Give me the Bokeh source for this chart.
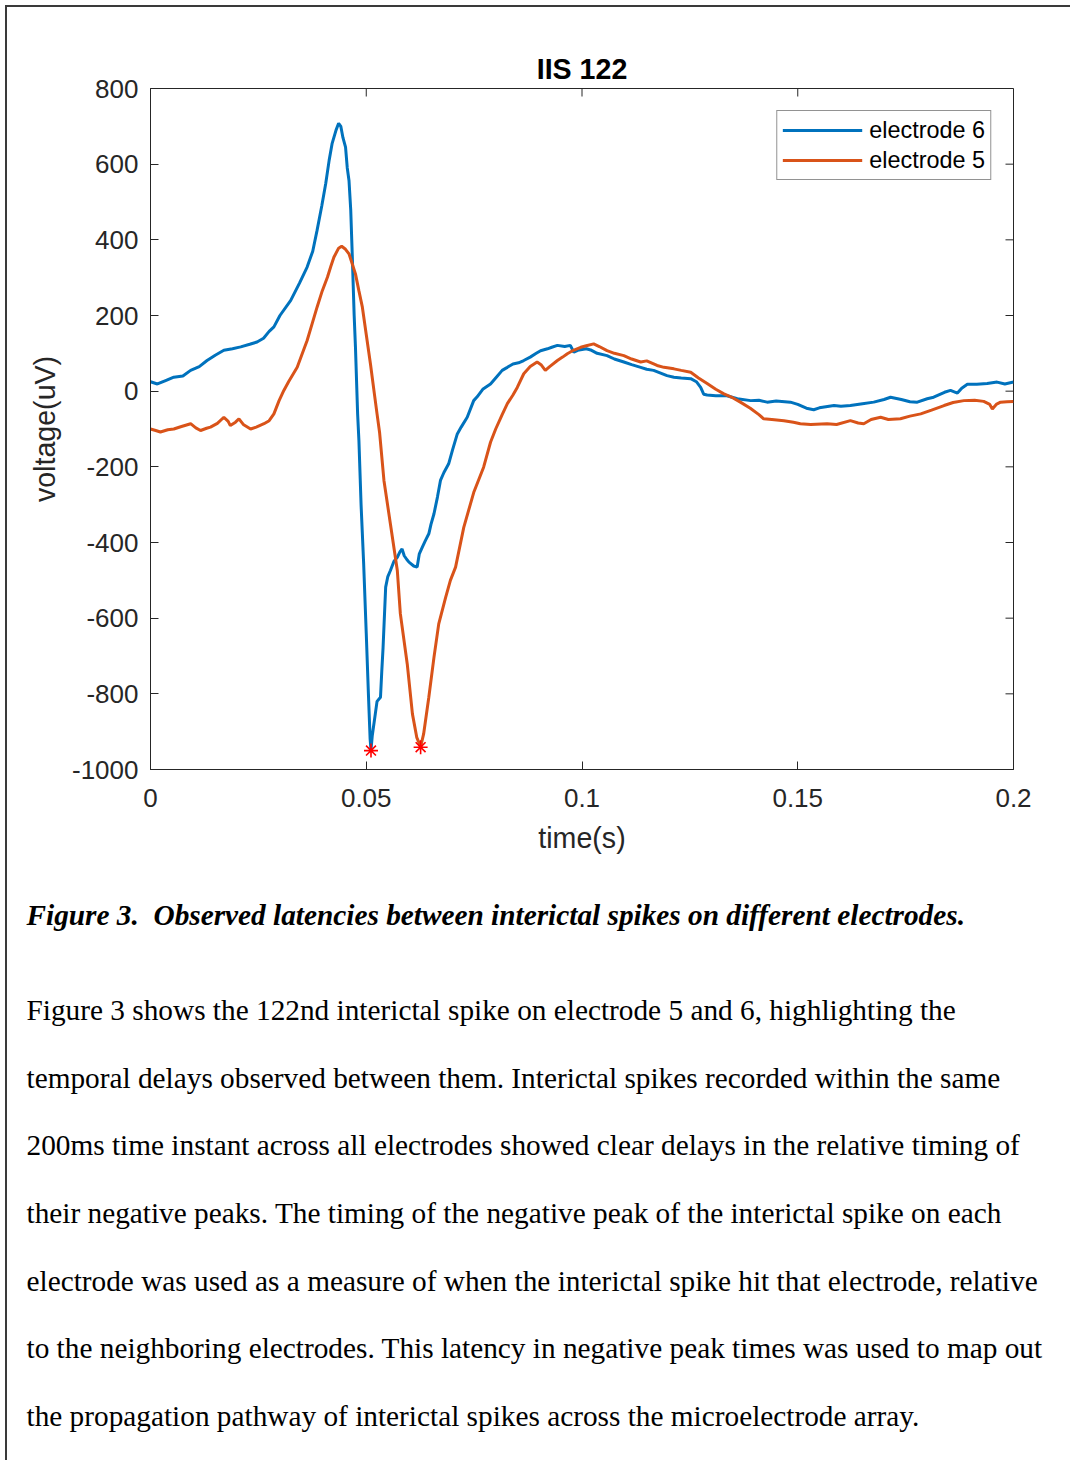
from bokeh.plotting import figure
from bokeh.models import Range1d, FixedTicker, Legend, LegendItem
from bokeh.layouts import column
from bokeh.embed import file_html
from bokeh.resources import INLINE
from bokeh.core.properties import value

# ---------------- data ----------------
series_names = ["electrode 6", "electrode 5"]

t_e6 = [0.0000, 0.0016, 0.0035, 0.0054, 0.0075, 0.0093, 0.0113, 0.0131, 0.0150, 0.0170,
        0.0190, 0.0209, 0.0230, 0.0247, 0.0262, 0.0275, 0.0286, 0.0300, 0.0325, 0.0345,
        0.0363, 0.0376, 0.0386, 0.0397, 0.0406, 0.0414, 0.0421, 0.0430, 0.0436, 0.0441,
        0.0446, 0.0452, 0.0456, 0.0460, 0.0464, 0.0467, 0.0472, 0.0475, 0.0480, 0.0483,
        0.0488, 0.0494, 0.0500, 0.0505, 0.0509, 0.0511, 0.0514, 0.0521, 0.0525, 0.0533,
        0.0536, 0.0539, 0.0545, 0.0550, 0.0556, 0.0564, 0.0572, 0.0578, 0.0583, 0.0588,
        0.0594, 0.0599, 0.0610, 0.0618, 0.0623, 0.0630, 0.0637, 0.0645, 0.0650, 0.0657,
        0.0665, 0.0672, 0.0680, 0.0691, 0.0700, 0.0711, 0.0720, 0.0734, 0.0749, 0.0757,
        0.0770, 0.0788, 0.0800, 0.0815, 0.0827, 0.0840, 0.0853, 0.0865, 0.0880, 0.0894,
        0.0904, 0.0920, 0.0930, 0.0943, 0.0960, 0.0973, 0.0981, 0.0990, 0.1010, 0.1020,
        0.1035, 0.1058, 0.1075, 0.1097, 0.1115, 0.1136, 0.1150, 0.1166, 0.1197, 0.1213,
        0.1230, 0.1252, 0.1265, 0.1275, 0.1282, 0.1290, 0.1310, 0.1336, 0.1360, 0.1391,
        0.1410, 0.1429, 0.1450, 0.1483, 0.1500, 0.1520, 0.1537, 0.1550, 0.1584, 0.1600,
        0.1622, 0.1650, 0.1676, 0.1700, 0.1715, 0.1740, 0.1760, 0.1777, 0.1800, 0.1815,
        0.1840, 0.1854, 0.1870, 0.1880, 0.1893, 0.1915, 0.1939, 0.1962, 0.1980, 0.2000]
v_e6 = [25, 19, 28, 37, 40, 55, 65, 81, 95, 108,
        112, 117, 124, 130, 140, 158, 170, 200, 240, 285,
        328, 370, 425, 490, 548, 610, 655, 690, 708, 700,
        670, 645, 590, 557, 480, 380, 200, 116, -60, -130,
        -300, -456, -640, -800, -920, -948, -910, -853, -820, -809,
        -740, -677, -518, -490, -474, -450, -439, -425, -417, -435,
        -445, -452, -462, -465, -430, -412, -395, -377, -352, -324,
        -280, -236, -215, -192, -155, -113, -95, -69, -25, -15,
        5, 19, 35, 55, 63, 72, 75, 81, 90, 100,
        107, 112, 116, 121, 118, 121, 103, 108, 112, 109,
        100, 94, 85, 77, 70, 63, 58, 55, 41, 37,
        35, 33, 25, 10, -8, -10, -12, -12, -20, -25,
        -24, -29, -26, -29, -35, -45, -49, -44, -38, -40,
        -38, -33, -29, -22, -16, -22, -28, -29, -20, -16,
        -3, 2, -5, 8, 18, 18, 20, 24, 19, 24]

t_e5 = [0.0000, 0.0012, 0.0023, 0.0040, 0.0054, 0.0070, 0.0093, 0.0105, 0.0116, 0.0130,
        0.0139, 0.0155, 0.0170, 0.0180, 0.0185, 0.0197, 0.0205, 0.0215, 0.0232, 0.0245,
        0.0263, 0.0275, 0.0286, 0.0298, 0.0309, 0.0320, 0.0340, 0.0352, 0.0363, 0.0375,
        0.0386, 0.0398, 0.0410, 0.0418, 0.0425, 0.0436, 0.0443, 0.0452, 0.0460, 0.0468,
        0.0475, 0.0483, 0.0491, 0.0500, 0.0510, 0.0518, 0.0525, 0.0531, 0.0541, 0.0556,
        0.0572, 0.0579, 0.0595, 0.0607, 0.0617, 0.0626, 0.0633, 0.0645, 0.0657, 0.0668,
        0.0684, 0.0695, 0.0707, 0.0726, 0.0749, 0.0772, 0.0788, 0.0800, 0.0815, 0.0827,
        0.0840, 0.0850, 0.0865, 0.0880, 0.0896, 0.0905, 0.0915, 0.0925, 0.0943, 0.0955,
        0.0966, 0.0980, 0.0997, 0.1010, 0.1027, 0.1040, 0.1058, 0.1075, 0.1097, 0.1115,
        0.1136, 0.1150, 0.1174, 0.1190, 0.1213, 0.1230, 0.1252, 0.1270, 0.1290, 0.1310,
        0.1329, 0.1350, 0.1367, 0.1390, 0.1410, 0.1421, 0.1440, 0.1468, 0.1490, 0.1506,
        0.1530, 0.1568, 0.1590, 0.1622, 0.1640, 0.1653, 0.1670, 0.1692, 0.1710, 0.1738,
        0.1760, 0.1785, 0.1810, 0.1839, 0.1860, 0.1885, 0.1910, 0.1931, 0.1945, 0.1951,
        0.1960, 0.1970, 0.1985, 0.2000]
v_e5 = [-100, -104, -108, -102, -100, -94, -86, -97, -104, -98,
        -95, -85, -69, -80, -91, -82, -73, -88, -100, -95,
        -86, -78, -60, -25, 2, 25, 63, 100, 134, 180,
        222, 265, 301, 330, 354, 378, 383, 375, 363, 335,
        310, 265, 222, 150, 70, 0, -60, -110, -236, -351,
        -474, -588, -721, -853, -915, -940, -906, -809, -703, -615,
        -545, -500, -465, -360, -268, -201, -135, -100, -62, -33,
        -10, 10, 46, 65, 77, 70, 55, 65, 81, 90,
        99, 108, 116, 120, 125, 118, 107, 100, 94, 85,
        77, 80, 68, 63, 59, 55, 50, 35, 20, 5,
        -7, -18, -29, -45, -62, -73, -75, -78, -82, -86,
        -88, -86, -88, -78, -84, -86, -75, -69, -75, -73,
        -66, -60, -50, -38, -30, -25, -24, -27, -35, -47,
        -35, -29, -28, -27]

# negative-peak markers
peak_t = [0.0511, 0.0626]
peak_v = [-950, -941]

x_ticks = [0, 0.05, 0.1, 0.15, 0.2]
x_tick_labels = ["0", "0.05", "0.1", "0.15", "0.2"]
y_ticks = [-1000, -800, -600, -400, -200, 0, 200, 400, 600, 800]
y_tick_labels = ["-1000", "-800", "-600", "-400", "-200", "0", "200", "400", "600", "800"]

chart_title = "IIS 122"
x_label = "time(s)"
y_label = "voltage(uV)"

caption = "Figure 3.\u00a0 Observed latencies between interictal spikes on different electrodes."
paragraph = [
    "Figure 3 shows the 122nd interictal spike on electrode 5 and 6, highlighting the",
    "temporal delays observed between them. Interictal spikes recorded within the same",
    "200ms time instant across all electrodes showed clear delays in the relative timing of",
    "their negative peaks. The timing of the negative peak of the interictal spike on each",
    "electrode was used as a measure of when the interictal spike hit that electrode, relative",
    "to the neighboring electrodes. This latency in negative peak times was used to map out",
    "the propagation pathway of interictal spikes across the microelectrode array.",
]

# ---------------- styling ----------------
AX = "#262626"
SANS = "Liberation Sans"
SERIF = "Liberation Serif"
BLUE = "#0072BD"
ORANGE = "#D95319"

W = 1063
H1 = 863
H2 = 590
FL, FR, FT, FB = 143, 57, 81, 101          # borders around the chart frame
FRAME_W = W - FL - FR
FRAME_H = H1 - FT - FB
XMIN, XMAX, YMIN, YMAX = 0, 0.2, -1000, 800
TICK = 8                                   # tick length, px

p = figure(width=W, height=H1, output_backend="svg", toolbar_location=None,
           x_range=Range1d(XMIN, XMAX), y_range=Range1d(YMIN, YMAX),
           min_border_left=FL, min_border_right=FR, min_border_top=FT,
           min_border_bottom=FB, title=chart_title)
p.frame_align = False
p.title.align = "center"
p.title.text_font = SANS
p.title.text_font_size = "28.6px"
p.title.text_font_style = "bold"
p.title.text_color = "#000000"
p.title.standoff = 8
p.grid.visible = False
p.outline_line_color = AX
p.outline_line_width = 1
p.background_fill_color = "white"
p.border_fill_color = "white"

xover = {x_ticks[i]: x_tick_labels[i] for i in range(len(x_ticks))}
yover = {y_ticks[i]: y_tick_labels[i] for i in range(len(y_ticks))}

def style_axis(ax, ticks):
    ax.ticker = FixedTicker(ticks=ticks)
    ax.major_tick_in = TICK
    ax.major_tick_out = 0
    ax.minor_tick_in = 0
    ax.minor_tick_out = 0
    ax.axis_line_color = AX
    ax.axis_line_width = 1
    ax.major_tick_line_color = AX
    ax.major_tick_line_width = 1
    ax.major_label_text_font = SANS
    ax.major_label_text_color = AX
    ax.major_label_text_font_size = "26px"
    ax.axis_label_text_font = SANS
    ax.axis_label_text_font_size = "28.6px"
    ax.axis_label_text_font_style = "normal"
    ax.axis_label_text_color = AX

xa = p.xaxis[0]
style_axis(xa, x_ticks)
xa.major_label_overrides = xover
xa.major_label_standoff = 19
xa.axis_label = x_label
xa.axis_label_standoff = 12

ya = p.yaxis[0]
style_axis(ya, y_ticks)
ya.major_label_overrides = yover
ya.major_label_standoff = 12
ya.axis_label = y_label
ya.axis_label_standoff = 8

# inward ticks on the top and right edges of the box (from the tick arrays)
dy_tick = TICK * (YMAX - YMIN) / FRAME_H
dx_tick = TICK * (XMAX - XMIN) / FRAME_W
p.segment(x0=x_ticks, y0=[YMAX] * len(x_ticks), x1=x_ticks, y1=[YMAX - dy_tick] * len(x_ticks),
          line_color=AX, line_width=1)
p.segment(x0=[XMAX] * len(y_ticks), y0=y_ticks, x1=[XMAX - dx_tick] * len(y_ticks), y1=y_ticks,
          line_color=AX, line_width=1)

r6 = p.line(t_e6, v_e6, line_color=BLUE, line_width=3)
r5 = p.line(t_e5, v_e5, line_color=ORANGE, line_width=3)
p.scatter(peak_t, peak_v, marker="asterisk", size=14, line_color="#FF0000", line_width=1.6)

legend = Legend(items=[LegendItem(label=series_names[0], renderers=[r6]),
                       LegendItem(label=series_names[1], renderers=[r5])],
                location="top_right", margin=22, padding=5, spacing=2,
                label_text_font=SANS, label_text_font_size="23.4px", label_text_color="#000000",
                label_standoff=7, glyph_width=80, glyph_height=28, label_height=28,
                border_line_color=AX, border_line_width=1, background_fill_alpha=1.0)
p.add_layout(legend)

# ---------------- text block ----------------
q = figure(width=W, height=H2, output_backend="svg", toolbar_location=None,
           x_range=Range1d(0, W), y_range=Range1d(H2, 0),
           min_border=0, min_border_left=0, min_border_right=0,
           min_border_top=0, min_border_bottom=0,
           x_axis_location=None, y_axis_location=None)
q.frame_align = False
q.grid.visible = False
q.outline_line_color = None
q.background_fill_color = "white"
q.border_fill_color = "white"

q.text(x=[19], y=[44.7], text=[caption], text_font=value(SERIF), text_font_size="29.3px",
       text_font_style="bold italic", text_baseline="alphabetic", text_align="left",
       text_color="#000000")
base_y = [139.7 + 67.6 * i for i in range(len(paragraph))]
q.text(x=[19] * len(paragraph), y=base_y, text=paragraph, text_font=value(SERIF),
       text_font_size="29.3px", text_baseline="alphabetic", text_align="left",
       text_color="#000000")

layout = column(p, q, styles={"margin-left": "5px", "margin-top": "5px",
                              "border-left": "2px solid #3a3a3a",
                              "border-top": "2px solid #3a3a3a"})

open("out.html", "w").write(file_html(layout, INLINE))
